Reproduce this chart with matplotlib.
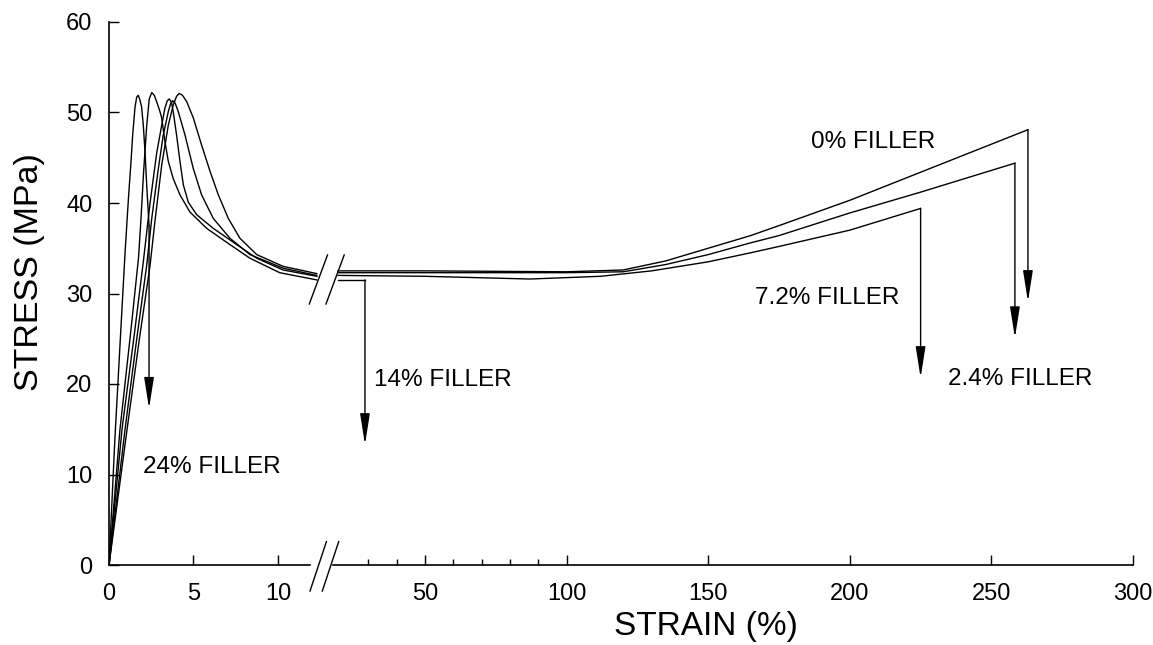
import numpy as np
import matplotlib
matplotlib.use('Agg')
import matplotlib.pyplot as plt

plt.rcParams['font.family'] = ['Liberation Sans', 'DejaVu Sans']

# strain (%) / stress (MPa), one pair of lists per filler level
strain_0 = [0, 1.07, 1.8, 2.43, 2.72, 3.12, 3.51, 3.8, 4.0, 4.16, 4.35, 4.6, 4.99, 5.48, 5.98,
            6.47, 7.06, 7.75, 8.74, 10.3, 12.3,
            19.3, 50, 100, 120, 135, 150, 165, 175, 200, 225, 250, 262.9]
stress_0 = [0, 15, 25, 33.1, 38.0, 44.2, 48.6, 50.8, 51.8, 52.1, 51.9, 51.2, 49.4, 46.4, 43.5,
            40.9, 38.3, 36.1, 34.3, 33.0, 32.2,
            32.5, 32.5, 32.4, 32.6, 33.6, 35.0, 36.4, 37.5, 40.3, 43.4, 46.5, 48.1]

strain_2_4 = [0, 0.95, 1.6, 2.23, 2.53, 2.92, 3.21, 3.51, 3.65, 3.77, 3.92, 4.1, 4.5, 4.99, 5.48,
              6.17, 7.16, 8.34, 10.3, 12.3,
              19.3, 50, 100, 120, 135, 150, 165, 175, 200, 225, 258.3]
stress_2_4 = [0, 15, 24.4, 33.1, 38.3, 43.8, 47.5, 50.1, 51.0, 51.3, 51.0, 50.1, 47.5, 43.8, 40.9,
              38.3, 36.1, 34.3, 32.8, 32.0,
              32.3, 32.3, 32.3, 32.4, 33.2, 34.3, 35.6, 36.4, 38.9, 41.2, 44.4]

strain_7_2 = [0, 0.77, 1.5, 2.03, 2.43, 2.82, 3.12, 3.31, 3.45, 3.57, 3.7, 3.8, 4.0, 4.2, 4.4,
              4.69, 5.19, 6.17, 7.56, 8.74, 10.3, 12.3,
              19.3, 50, 87, 112, 130, 150, 165, 175, 200, 225.0]
stress_7_2 = [0, 15, 25.5, 33.5, 40.0, 45.5, 48.6, 50.5, 51.3, 51.5, 51.1, 50.1, 47.5, 44.6, 42.0,
              40.1, 38.7, 37.2, 35.4, 33.9, 32.6, 31.9,
              32.0, 31.9, 31.6, 31.9, 32.5, 33.5, 34.5, 35.2, 37.0, 39.4]

strain_14 = [0, 0.65, 1.3, 1.75, 1.9, 2.05, 2.23, 2.38, 2.53, 2.68, 2.82, 3.0, 3.12, 3.31, 3.51,
             3.8, 4.2, 4.79, 5.78, 7.16, 8.34, 10.1, 12.3,
             19.3, 28.8]
stress_14 = [0, 15, 26, 34, 38.5, 43.5, 48.5, 51.5, 52.2, 51.9, 51.2, 50.2, 49.4, 46.8, 44.6,
             42.7, 40.9, 39.0, 37.2, 35.4, 33.9, 32.3, 31.5,
             31.5, 31.5]

strain_24 = [0, 0.35, 0.7, 0.95, 1.05, 1.15, 1.3, 1.4, 1.54, 1.64, 1.73, 1.83, 1.93, 2.03, 2.13,
             2.23, 2.37]
stress_24 = [0, 14, 26, 34.5, 37.5, 40.5, 44.5, 47.5, 50.6, 51.7, 51.9, 51.4, 50.6, 48.6, 45.7,
             42, 37.5]

# where each failure arrow ends
arrow_tips = {'0': 29.1, '2.4': 25.1, '7.2': 20.7, '14': 13.3, '24': 17.3}

labels = ['0% FILLER', '2.4% FILLER', '7.2% FILLER', '14% FILLER', '24% FILLER']
label_x = [208.2, 260.1, 191.9, 56.3, 6.09]
label_y = [46.7, 20.55, 29.5, 20.4, 10.8]

major_ticks = [0, 5, 10, 50, 100, 150, 200, 250, 300]
minor_ticks = [30, 40, 60, 70, 80, 90]

# broken axis: 0-12.4 stretched, everything above squeezed
B = 12.4
K = 0.1676


def fwd(x):
    x = np.asarray(x, dtype=float)
    return np.where(x <= B, x, B + (x - B) * K)


def inv(u):
    u = np.asarray(u, dtype=float)
    return np.where(u <= B, u, B + (u - B) / K)


fig = plt.figure(figsize=(11.53, 6.45), dpi=100)
ax = fig.add_axes([109 / 1153, 80 / 645, 1024 / 1153, 543 / 645])
ax.set_xscale('function', functions=(fwd, inv))
ax.set_xlim(0, 300)
ax.set_ylim(0, 60)

curves = [(strain_0, stress_0, '0'), (strain_2_4, stress_2_4, '2.4'),
          (strain_7_2, stress_7_2, '7.2'), (strain_14, stress_14, '14'),
          (strain_24, stress_24, '24')]

for xs, ys, key in curves:
    xs = np.array(xs)
    ys = np.array(ys)
    left = xs <= B
    ax.plot(xs[left], ys[left], color='black', lw=1.0)
    if (~left).any():
        ax.plot(xs[~left], ys[~left], color='black', lw=1.0)
    ax.annotate('', xy=(xs[-1], arrow_tips[key]), xytext=(xs[-1], ys[-1]),
                arrowprops=dict(arrowstyle='-|>,head_length=1.9,head_width=0.3',
                                color='black', lw=1.0, shrinkA=0, shrinkB=0,
                                mutation_scale=10))

for txt, x, y in zip(labels, label_x, label_y):
    ax.text(x, y, txt, fontsize=17.5, ha='center', va='center')

ax.set_xticks(major_ticks)
ax.set_xticklabels([str(t) for t in major_ticks])
ax.set_xticks(minor_ticks, minor=True)
ax.set_yticks(range(0, 61, 10))
ax.tick_params(axis='both', which='major', direction='in', labelsize=17, width=1)
ax.tick_params(axis='x', which='major', length=7, pad=13)
ax.tick_params(axis='x', which='minor', direction='in', length=4, width=1)
ax.tick_params(axis='y', which='major', length=7, pad=12)

for s in ['top', 'right', 'bottom']:
    ax.spines[s].set_visible(False)
ax.spines['left'].set_linewidth(1.2)

# x axis line with a gap, plus the // break marks
ax.plot([0, 0.196], [0, 0], transform=ax.transAxes, color='black', lw=1.2, clip_on=False)
ax.plot([0.219, 1], [0, 0], transform=ax.transAxes, color='black', lw=1.2, clip_on=False)
for x0 in [0.1963, 0.2083]:
    ax.plot([x0, x0 + 0.016], [-0.048, 0.043], transform=ax.transAxes,
            color='black', lw=1.0, clip_on=False)
for x0 in [0.1956, 0.2119]:
    ax.plot([x0, x0 + 0.0178], [0.4807, 0.571], transform=ax.transAxes,
            color='black', lw=1.0, clip_on=False)

fig.text(30 / 1153, 1 - 272 / 645, 'STRESS (MPa)', rotation=90, fontsize=24.5,
         ha='center', va='center')
fig.text(706 / 1153, 1 - 627 / 645, 'STRAIN (%)', fontsize=24, ha='center', va='center')

fig.savefig('out.png', dpi=100)
